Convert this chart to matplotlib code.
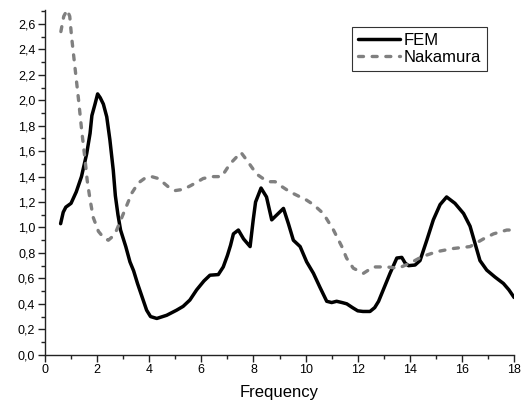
import matplotlib
matplotlib.use("Agg")
import matplotlib.pyplot as plt
from matplotlib.ticker import MultipleLocator, FuncFormatter

fem_x = [0.60, 0.70, 0.80, 1.00, 1.20, 1.40, 1.60, 1.73, 1.80, 1.92, 2.02, 2.12, 2.24, 2.37,
         2.49, 2.62, 2.70, 2.80, 2.90, 3.10, 3.26, 3.40, 3.55, 3.70, 3.90, 4.05, 4.29, 4.67,
         5.05, 5.30, 5.56, 5.82, 6.10, 6.33, 6.65, 6.84, 7.00, 7.12, 7.23, 7.42, 7.62, 7.87,
         7.99, 8.08, 8.29, 8.50, 8.70, 8.95, 9.15, 9.34, 9.53, 9.79, 10.04, 10.30, 10.55,
         10.81, 11.00, 11.19, 11.40, 11.58, 11.80, 12.00, 12.20, 12.47, 12.65, 12.80, 12.98,
         13.24, 13.50, 13.69, 13.82, 13.95, 14.20, 14.39, 14.65, 14.90, 15.16, 15.41, 15.73,
         16.06, 16.31, 16.50, 16.69, 16.95, 17.27, 17.59, 17.80, 18.00]
fem_y = [1.03, 1.12, 1.16, 1.19, 1.28, 1.40, 1.58, 1.74, 1.88, 1.97, 2.05, 2.02, 1.97, 1.87,
         1.69, 1.45, 1.25, 1.10, 0.98, 0.85, 0.73, 0.66, 0.56, 0.47, 0.35, 0.30, 0.285, 0.31,
         0.35, 0.38, 0.43, 0.51, 0.58, 0.625, 0.63, 0.69, 0.78, 0.86, 0.95, 0.98, 0.91, 0.85,
         1.06, 1.20, 1.31, 1.24, 1.06, 1.11, 1.15, 1.03, 0.90, 0.85, 0.73, 0.64, 0.53,
         0.42, 0.41, 0.42, 0.41, 0.40, 0.37, 0.345, 0.34, 0.34, 0.37, 0.42, 0.51,
         0.64, 0.76, 0.765, 0.72, 0.70, 0.705, 0.74, 0.90, 1.06, 1.18, 1.24, 1.19,
         1.11, 1.01, 0.875, 0.74, 0.665, 0.61, 0.56, 0.51, 0.45]

nak_x = [0.61, 0.72, 0.85, 0.95, 1.02, 1.15, 1.29, 1.41, 1.54, 1.62, 1.73, 1.85, 2.05, 2.25,
         2.43, 2.60, 2.75, 3.07, 3.33, 3.58, 3.85, 4.09, 4.35, 4.73, 4.99, 5.31, 5.60, 6.07,
         6.40, 6.78, 7.10, 7.52, 7.74, 8.12, 8.40, 8.63, 8.83, 9.10, 9.40, 10.04, 10.30,
         10.68, 11.07, 11.39, 11.57, 11.83, 12.22, 12.60, 13.11, 13.56, 14.01, 14.46, 15.03,
         15.67, 16.31, 16.82, 17.21, 17.72, 18.00]
nak_y = [2.54, 2.66, 2.71, 2.66, 2.50, 2.26, 2.00, 1.76, 1.53, 1.37, 1.22, 1.08, 0.97, 0.92,
         0.90, 0.93, 0.98, 1.14, 1.27, 1.35, 1.39, 1.40, 1.385, 1.32, 1.29, 1.30, 1.33, 1.385,
         1.40, 1.40, 1.50, 1.59, 1.53, 1.42, 1.38, 1.36, 1.36, 1.32, 1.28, 1.215, 1.18,
         1.11, 0.98, 0.85, 0.76, 0.68, 0.64, 0.69, 0.69, 0.68, 0.72, 0.77, 0.81,
         0.835, 0.85, 0.91, 0.95, 0.98, 0.98]

series_labels = ["FEM", "Nakamura"]
x_label = "Frequency"

plt.rcParams['font.family'] = ['Liberation Sans', 'DejaVu Sans']

fig = plt.figure(figsize=(5.23, 4.08), dpi=100)
ax = fig.add_axes([0.086, 0.1306, 0.897, 0.845])

ax.plot(fem_x, fem_y, color='black', lw=2.5, solid_capstyle='round',
        solid_joinstyle='round', label=series_labels[0])
ax.plot(nak_x, nak_y, color='#808080', lw=2.4, dashes=(1.5, 2.6),
        dash_capstyle='round', label=series_labels[1])

ax.set_xlim(0, 18)
ax.set_ylim(0, 2.71)
ax.xaxis.set_major_locator(MultipleLocator(2))
ax.xaxis.set_minor_locator(MultipleLocator(1))
ax.yaxis.set_major_locator(MultipleLocator(0.2))
ax.yaxis.set_minor_locator(MultipleLocator(0.1))
ax.xaxis.set_major_formatter(FuncFormatter(lambda v, p: f"{v:.0f}"))
ax.yaxis.set_major_formatter(FuncFormatter(lambda v, p: f"{v:.1f}".replace('.', ',')))

for s in ['top', 'right']:
    ax.spines[s].set_visible(False)
for s in ['left', 'bottom']:
    ax.spines[s].set_linewidth(1.0)
    ax.spines[s].set_color('#222222')

ax.tick_params(which='major', direction='out', length=5, width=1.0, labelsize=9,
               color='#222222', pad=2)
ax.tick_params(which='minor', direction='out', length=3, width=1.0, color='#222222')

ax.set_xlabel(x_label, fontsize=12, labelpad=6)

leg = ax.legend(loc='upper right', bbox_to_anchor=(0.942, 0.951), borderaxespad=0,
                fontsize=12, frameon=True, fancybox=False, edgecolor='black',
                handlelength=2.5, handletextpad=0.25, labelspacing=0.12, borderpad=0.35)
leg.get_frame().set_linewidth(0.8)

fig.savefig("out.png", dpi=100)
